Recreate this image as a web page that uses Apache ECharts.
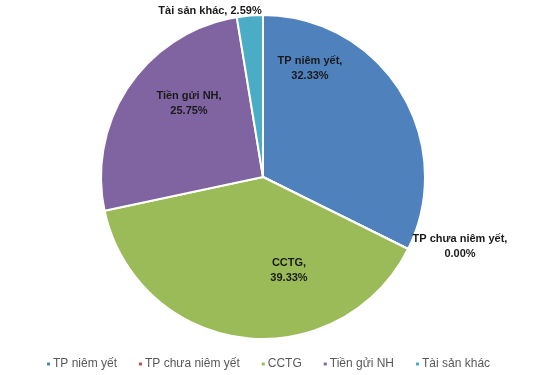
<!DOCTYPE html>
<html><head><meta charset="utf-8">
<script src="https://cdn.jsdelivr.net/npm/echarts@6/dist/echarts.min.js"></script>
<style>html,body{margin:0;padding:0;background:#fff}#c{width:546px;height:375px}</style>
</head><body><div id="c"></div>
<script>
const categories = ['TP niêm yết', 'TP chưa niêm yết', 'CCTG', 'Tiền gửi NH', 'Tài sản khác'];
const values = [32.33, 0.00, 39.33, 25.75, 2.59];
const colors = ['#4F81BD', '#C0504D', '#9BBB59', '#8064A2', '#4BACC6'];
// label anchor positions (layout only)
const labelPos = [[310, 68], [460, 246], [289, 270], [189, 103], [210, 11]];
const labelWrap = [true, true, true, true, false];

const chart = echarts.init(document.getElementById('c'), null, {renderer: 'canvas'});
const data = categories.map((n, i) => ({
  name: n, value: values[i], itemStyle: {color: colors[i]}
}));
chart.setOption({
  animation: false,
  legend: {
    bottom: 0, left: 40,
    itemWidth: 5, itemHeight: 5, itemGap: 20,
    icon: 'rect',
    textStyle: {fontFamily: 'Liberation Sans, Arial', fontSize: 12, color: '#595959', padding: [0, 0, 0, -3]},
    data: categories
  },
  series: [{
    type: 'pie',
    center: [263, 177],
    radius: 162,
    startAngle: 90,
    clockwise: true,
    minAngle: 0,
    avoidLabelOverlap: false,
    itemStyle: {borderColor: '#fff', borderWidth: 2},
    label: {
      show: true,
      position: 'inside',
      fontFamily: 'Liberation Sans, Arial',
      fontWeight: 'bold',
      fontSize: 11,
      lineHeight: 15,
      color: '#1a1a1a',
      align: 'center',
      formatter: p => {
        const i = p.dataIndex;
        const v = values[i].toFixed(2) + '%';
        return labelWrap[i] ? p.name + ',\n' + v : p.name + ', ' + v;
      }
    },
    labelLine: {show: false},
    labelLayout: params => {
      const i = params.dataIndex;
      return {x: labelPos[i][0], y: labelPos[i][1], align: 'center', verticalAlign: 'middle'};
    },
    emphasis: {disabled: true},
    data: data
  }]
});
</script></body></html>
